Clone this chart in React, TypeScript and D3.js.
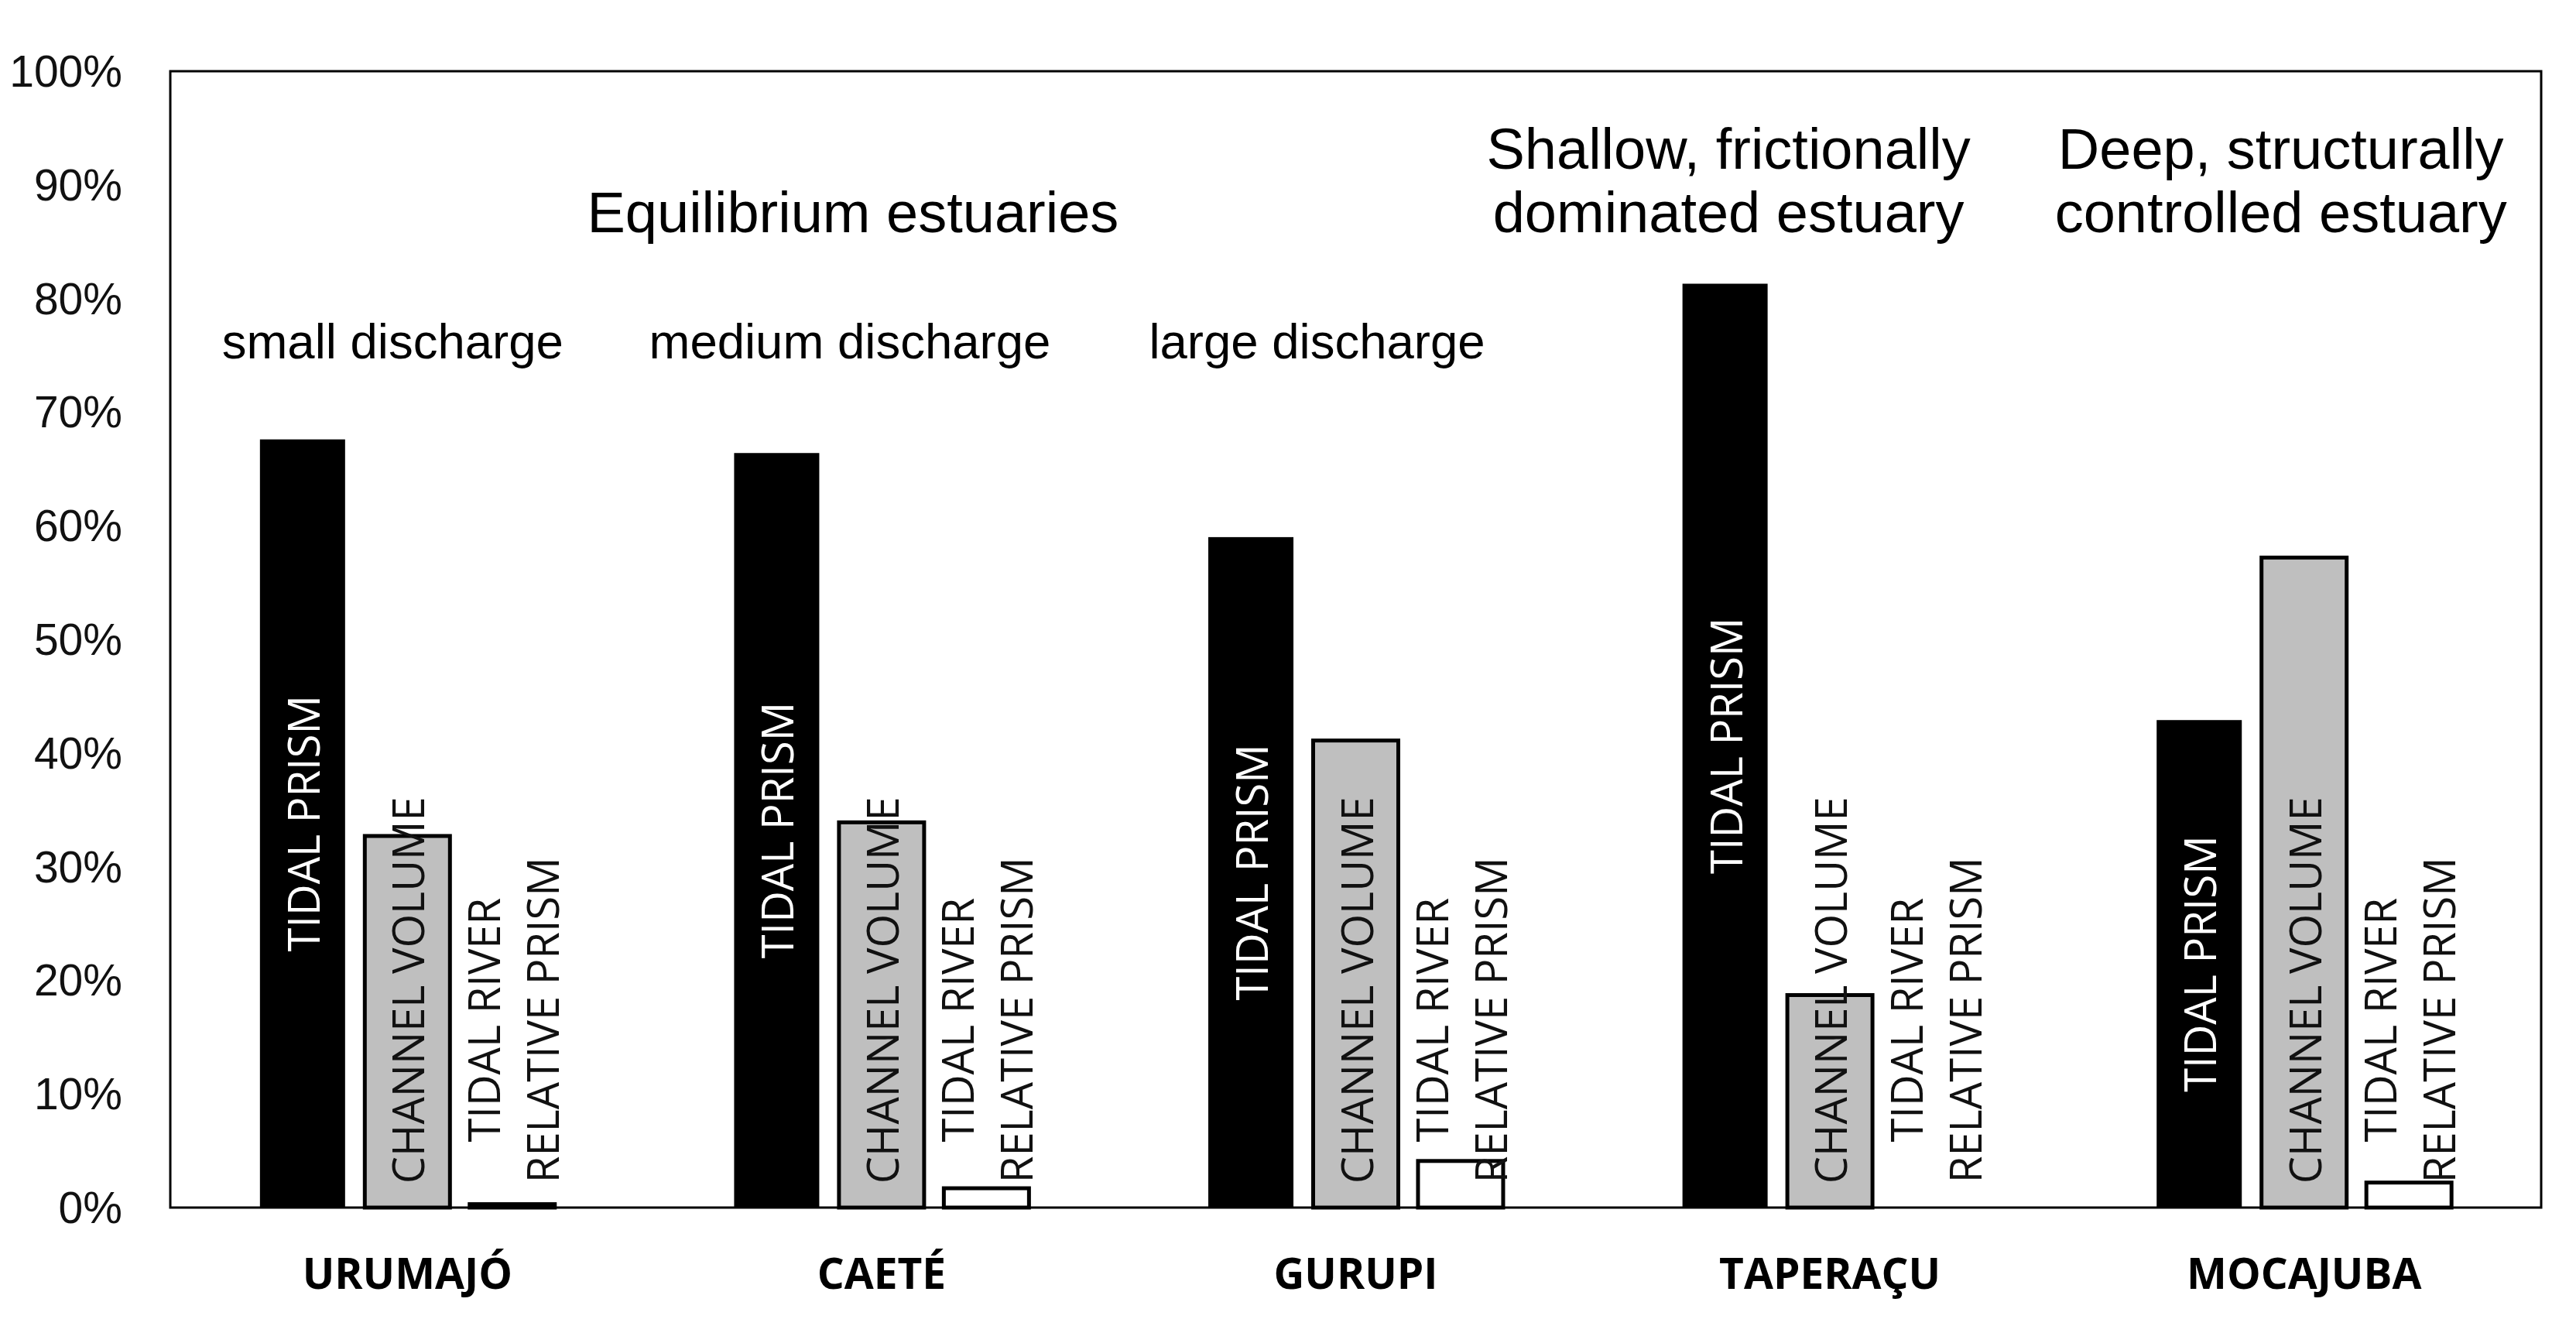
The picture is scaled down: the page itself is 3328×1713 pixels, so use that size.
import React, {useRef, useEffect} from "react";
import * as d3 from "d3";

// estuaries on the x axis
const categories = ["URUMAJÓ", "CAETÉ", "GURUPI", "TAPERAÇU", "MOCAJUBA"];
const seriesKeys = ["tidalPrism", "channelVolume", "tidalRiverPrism"];

// percentages
const tidalPrism = [67.6, 66.4, 59.0, 81.3, 42.9];
const channelVolume = [32.7, 33.9, 41.1, 18.7, 57.2];
const tidalRiverPrism = [0.3, 1.7, 4.1, 0, 2.2];

const yTicks = [0, 10, 20, 30, 40, 50, 60, 70, 80, 90, 100];

// text written above the bars
const groupNotes = ["small discharge", "medium discharge", "large discharge"];
const typeNotes = [
    ["Equilibrium estuaries"],
    ["Shallow, frictionally", "dominated estuary"],
    ["Deep, structurally", "controlled estuary"],
];

const App = () => {
    const ref = useRef<SVGSVGElement>(null);

    useEffect(() => {
        document.body.style.margin = "0";

        const svgWidth = 3328;
        const svgHeight = 1713;
        const margin = {top: 92, right: 45, bottom: 153, left: 220};
        const sans = "'Liberation Sans', Arial, sans-serif";
        const labelFont = "'Open Sans', 'Noto Sans', sans-serif";

        const svg = d3.select(ref.current)
            .attr("width", svgWidth)
            .attr("height", svgHeight);

        svg.selectAll("*").remove();

        const data = categories.map((c, i) => ({
            category: c,
            tidalPrism: tidalPrism[i],
            channelVolume: channelVolume[i],
            tidalRiverPrism: tidalRiverPrism[i],
        }));

        const x0 = d3.scaleBand()
            .domain(categories)
            .range([margin.left, svgWidth - margin.right])
            .padding(0);

        const x1 = d3.scaleBand()
            .domain(seriesKeys)
            .range([0, x0.bandwidth()])
            .paddingInner(0.188)
            .paddingOuter(0.855);

        const yScale = d3.scaleLinear()
            .domain([0, 100])
            .range([svgHeight - margin.bottom, margin.top]);

        const fills = {tidalPrism: "#000000", channelVolume: "#bfbfbf", tidalRiverPrism: "#ffffff"};

        // Y tick labels (no tick marks in the original)
        svg.append("g")
            .selectAll("text")
            .data(yTicks)
            .enter()
            .append("text")
            .attr("x", margin.left - 62)
            .attr("y", d => yScale(d))
            .attr("text-anchor", "end")
            .attr("dominant-baseline", "central")
            .style("font-family", sans)
            .style("font-size", "57px")
            .style("fill", "#111")
            .text(d => d + "%");

        // bars
        const groups = svg.append("g")
            .selectAll("g")
            .data(data)
            .enter()
            .append("g")
            .attr("transform", d => `translate(${x0(d.category)},0)`);

        groups.selectAll("rect")
            .data(d => seriesKeys.map(k => ({key: k, value: d[k]})).filter(e => e.value > 0))
            .enter()
            .append("rect")
            .attr("x", d => x1(d.key))
            .attr("width", x1.bandwidth())
            .attr("y", d => yScale(d.value))
            .attr("height", d => yScale(0) - yScale(d.value))
            .attr("fill", d => fills[d.key])
            .attr("stroke", d => d.key === "tidalPrism" ? "none" : "#000")
            .attr("stroke-width", 5);

        // bar labels
        groups.append("text")
            .attr("transform", d => {
                const cx = x1("tidalPrism") + x1.bandwidth() / 2;
                const cy = (yScale(d.tidalPrism) + yScale(0)) / 2;
                return `translate(${cx},${cy}) rotate(-90)`;
            })
            .attr("text-anchor", "middle")
            .attr("dominant-baseline", "central")
            .style("font-family", labelFont)
            .style("font-size", "56px")
            .style("fill", "#fff")
            .text("TIDAL PRISM");

        groups.append("text")
            .attr("transform", () => {
                const cx = x1("channelVolume") + x1.bandwidth() / 2;
                return `translate(${cx},${yScale(2.1)}) rotate(-90)`;
            })
            .attr("text-anchor", "start")
            .attr("dominant-baseline", "central")
            .style("font-family", labelFont)
            .style("font-size", "56px")
            .style("fill", "#111")
            .text("CHANNEL VOLUME");

        const riverLabel = groups.append("text")
            .attr("transform", () => {
                const cx = x1("tidalRiverPrism") + x1.bandwidth() / 2;
                return `translate(${cx},${yScale(16.5)}) rotate(-90)`;
            })
            .attr("text-anchor", "middle")
            .style("font-family", labelFont)
            .style("font-size", "56px")
            .style("fill", "#111");

        riverLabel.append("tspan")
            .attr("x", 0)
            .attr("y", -38)
            .attr("dominant-baseline", "central")
            .text("TIDAL RIVER");

        riverLabel.append("tspan")
            .attr("x", 0)
            .attr("y", 38)
            .attr("dominant-baseline", "central")
            .text("RELATIVE PRISM");

        // plot frame
        svg.append("rect")
            .attr("x", margin.left)
            .attr("y", margin.top)
            .attr("width", svgWidth - margin.left - margin.right)
            .attr("height", svgHeight - margin.top - margin.bottom)
            .attr("fill", "none")
            .attr("stroke", "#000")
            .attr("stroke-width", 3);

        // category labels
        svg.append("g")
            .selectAll("text")
            .data(categories)
            .enter()
            .append("text")
            .attr("x", d => x0(d) + x0.bandwidth() / 2)
            .attr("y", 1665)
            .attr("text-anchor", "middle")
            .style("font-family", labelFont)
            .style("font-weight", "bold")
            .style("font-size", "55px")
            .style("fill", "#000")
            .text(d => d);

        // discharge notes over the first three estuaries
        const noteShift = [-19, -41, -50];
        svg.append("g")
            .selectAll("text")
            .data(groupNotes)
            .enter()
            .append("text")
            .attr("x", (d, i) => x0(categories[i]) + x0.bandwidth() / 2 + noteShift[i])
            .attr("y", 463)
            .attr("text-anchor", "middle")
            .style("font-family", sans)
            .style("font-size", "63.5px")
            .style("fill", "#000")
            .text(d => d);

        // estuary type notes
        const typeX = [
            x0(categories[1]) + x0.bandwidth() / 2 - 37,
            x0(categories[3]) + x0.bandwidth() / 2 - 131,
            x0(categories[4]) + x0.bandwidth() / 2 - 30,
        ];
        typeNotes.forEach((lines, i) => {
            const t = svg.append("text")
                .attr("text-anchor", "middle")
                .style("font-family", sans)
                .style("font-size", "74px")
                .style("fill", "#000");
            lines.forEach((line, j) => {
                t.append("tspan")
                    .attr("x", typeX[i])
                    .attr("y", lines.length === 1 ? 300 : 218 + j * 82)
                    .text(line);
            });
        });
    }, []);

    return (
        <div style={{position: "relative"}}>
            <svg ref={ref}></svg>
        </div>
    );
};

export default App;
